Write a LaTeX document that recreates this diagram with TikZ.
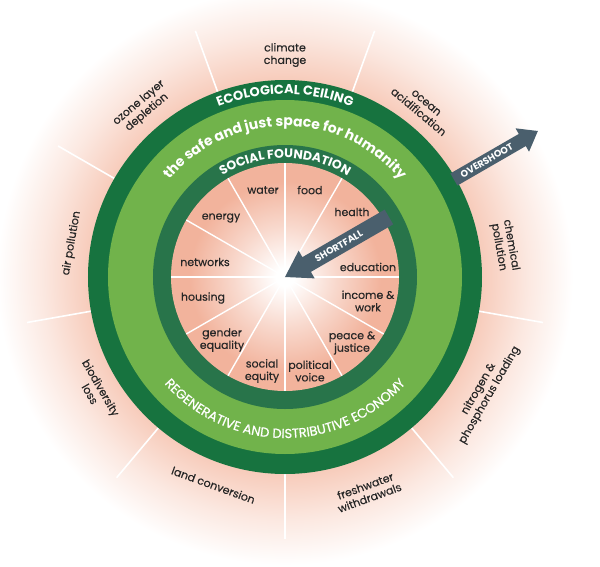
\documentclass[tikz,border=0pt]{standalone}
\usepackage{fontspec}
\setmainfont{Poppins}
\newfontfamily\labfont{Poppins}[FakeBold=0.3]
\newfontfamily\ringfont{Poppins}[FakeBold=0.6]
\usetikzlibrary{decorations.text}
\definecolor{ringdark}{HTML}{17733F}
\definecolor{ringinner}{HTML}{28744A}
\definecolor{ringlight}{HTML}{71B34B}
\definecolor{pinkout}{HTML}{F7CBBA}
\definecolor{pinkin}{HTML}{F2B39C}
\definecolor{arrowc}{HTML}{4A5F6D}
\definecolor{labelc}{HTML}{262626}
\colorlet{pinkmid}{pinkout!45!white}
\colorlet{pinkinmid}{pinkin!50!white}
\pgfdeclareradialshading{glowshade}{\pgfpoint{0bp}{0bp}}{color(0bp)=(pinkout); color(17bp)=(pinkout); color(21bp)=(pinkmid); color(25bp)=(white); color(50bp)=(white)}
\pgfdeclareradialshading{innershade}{\pgfpoint{0bp}{0bp}}{color(0bp)=(white); color(2bp)=(white); color(11bp)=(pinkinmid); color(21bp)=(pinkin); color(50bp)=(pinkin)}
\begin{document}
\begin{tikzpicture}[x=1pt,y=1pt,
  lab/.style={text=labelc, font=\labfont\fontsize{11}{12.5}\selectfont, align=center, inner sep=0pt},
  olab/.style={text=labelc, font=\labfont\fontsize{11}{12.5}\selectfont, align=center, inner sep=0pt},
  sep/.style={white, line width=1.6pt},
  isep/.style={white, line width=1.4pt},
  arrowtext/.style={text=white, font=\bfseries\fontsize{9.5}{10}\selectfont, inner sep=0pt}]
\useasboundingbox (-285,-289) rectangle (315,277);
\fill[white] (-285,-289) rectangle (315,277);
\coordinate (c) at (0,0);
\shade[shading=glowshade] (c) circle[radius=288pt];
\foreach \a in {30,70,...,350} \draw[sep] (\a:197pt) -- (\a:262pt);
\fill[ringdark] (c) circle[radius=197pt];
\fill[ringlight] (c) circle[radius=177pt];
\fill[ringinner] (c) circle[radius=132pt];
\shade[shading=innershade] (c) circle[radius=114pt];
\foreach \a in {0,30,...,150} \draw[isep] (\a:114pt) -- (\a+180:114pt);
% curved ring texts
\path[decorate, decoration={text along path, text align=center, text color=white,
  text={|\fontsize{13}{13}\selectfont\bfseries|ECOLOGICAL CEILING}}]
  (160:183pt) arc[start angle=160, end angle=20, radius=183pt];
\path[decorate, decoration={text along path, text align=center, text color=white,
  text={|\fontsize{14}{14}\selectfont\bfseries|the safe and just space for humanity}}]
  (170:151pt) arc[start angle=170, end angle=10, radius=151pt];
\path[decorate, decoration={text along path, text align=center, text color=white,
  text={|\fontsize{12.5}{12.5}\selectfont\bfseries|SOCIAL FOUNDATION}}]
  (170:119pt) arc[start angle=170, end angle=10, radius=119pt];
\path[decorate, decoration={text along path, text align=center, text color=white,
  text={|\ringfont\fontsize{13}{13}\selectfont|REGENERATIVE AND DISTRIBUTIVE ECONOMY}}]
  (195:161pt) arc[start angle=195, end angle=345, radius=161pt];
% inner labels
\node[lab] (water) at (-22,87) {water};
\node[lab] (food) at (25,87) {food};
\node[lab] (health) at (67,65) {health};
\node[lab] (energy) at (-64,59) {energy};
\node[lab] (networks) at (-80,15) {networks};
\node[lab] (education) at (83,10) {education};
\node[lab] (housing) at (-82,-21) {housing};
\node[lab] (income) at (83,-24) {income \&\\work};
\node[lab] (gender) at (-63,-63) {gender\\equality};
\node[lab] (peace) at (67,-66) {peace \&\\justice};
\node[lab] (social) at (-23,-94) {social\\equity};
\node[lab] (political) at (25,-94) {political\\voice};
% outer labels
\node[olab] (climate) at (90:222pt) {climate\\change};
\node[olab, rotate=-40] (ocean) at (51:218pt) {ocean\\acidification};
\node[olab, rotate=-80] (chemical) at (8:222pt) {chemical\\pollution};
\node[olab, rotate=60] (nitrogen) at (-30:230pt) {nitrogen \&\\phosphorus loading};
\node[olab, rotate=20] (freshwater) at (-69:230pt) {freshwater\\withdrawals};
\node[olab, rotate=-20] (land) at (-109:220pt) {land conversion};
\node[olab, rotate=-60] (biodiv) at (-149:221pt) {biodiversity\\loss};
\node[olab, rotate=80] (air) at (171:216pt) {air pollution};
\node[olab, rotate=40] (ozone) at (130:221pt) {ozone layer\\depletion};
% arrows
\begin{scope}[rotate=30]
\fill[arrowc] (0,0) -- (25,16) -- (25,8.5) -- (120,8.5) -- (120,-8.5) -- (25,-8.5) -- (25,-16) -- cycle;
\node[arrowtext, rotate=30] (shortfall) at (62,0) {SHORTFALL};
\fill[arrowc] (195,-7) -- (274,-7) -- (274,-13.5) -- (292,0) -- (274,13.5) -- (274,7) -- (195,7) -- cycle;
\node[arrowtext, rotate=30] (overshoot) at (233,0) {OVERSHOOT};
\end{scope}
\end{tikzpicture}
\end{document}
